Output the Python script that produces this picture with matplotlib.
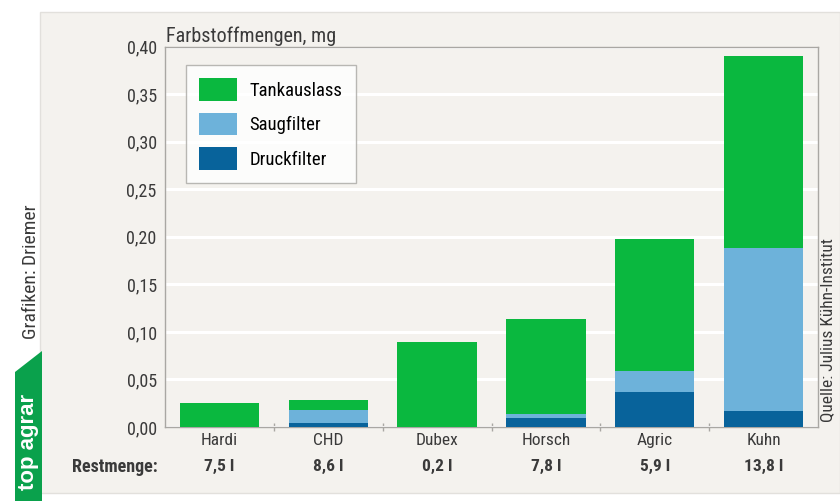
import matplotlib
matplotlib.use("Agg")
import matplotlib.pyplot as plt
from matplotlib.patches import Rectangle, Polygon, Patch
from matplotlib.ticker import FuncFormatter, FixedLocator

plt.rcParams["font.family"] = ["Roboto Condensed", "Liberation Sans", "DejaVu Sans"]

GREEN, LIGHT, DARK = "#0ab83f", "#6db2da", "#08639b"
PANEL, FRAME, TXT = "#f4f2ee", "#a9a7a3", "#3a3a3a"

categories = ["Hardi", "CHD", "Dubex", "Horsch", "Agric", "Kuhn"]
restmenge = ["7,5 l", "8,6 l", "0,2 l", "7,8 l", "5,9 l", "13,8 l"]
druckfilter = [0.0, 0.004, 0.0, 0.009, 0.037, 0.017]
saugfilter = [0.0, 0.014, 0.0, 0.005, 0.022, 0.171]
tankauslass = [0.025, 0.010, 0.089, 0.100, 0.139, 0.202]
yticks = [0.0, 0.05, 0.10, 0.15, 0.20, 0.25, 0.30, 0.35, 0.40]

fig = plt.figure(figsize=(8.4, 5.01), dpi=100)
fig.patch.set_facecolor("white")
W, H = 840, 501


def fx(px):
    return px / W


def fy(py):
    return 1 - py / H


# beige panel behind the chart
fig.patches.append(Rectangle((fx(40), fy(493)), fx(800), (493 - 12) / H,
                             transform=fig.transFigure, facecolor=PANEL,
                             edgecolor="#e2e0dc", lw=1, zorder=-10))

ax = fig.add_axes([fx(165), fy(427), fx(818) - fx(165), (427 - 46.7) / H])
ax.set_facecolor(PANEL)
x = list(range(len(categories)))
bottom2 = [a + b for a, b in zip(druckfilter, saugfilter)]
ax.bar(x, druckfilter, width=0.73, color=DARK, zorder=3)
ax.bar(x, saugfilter, width=0.73, bottom=druckfilter, color=LIGHT, zorder=3)
ax.bar(x, tankauslass, width=0.73, bottom=bottom2, color=GREEN, zorder=3)

ax.set_xlim(-0.5, len(categories) - 0.5)
ax.set_ylim(0, 0.40)
ax.set_yticks(yticks)
ax.yaxis.set_major_formatter(FuncFormatter(lambda v, p: f"{v:.2f}".replace(".", ",")))
ax.yaxis.grid(True, color="white", lw=2.2, zorder=1)
ax.set_axisbelow(True)
ax.tick_params(axis="y", length=0, pad=6, labelsize=13, labelcolor=TXT)

ax.xaxis.set_major_locator(FixedLocator(x))
ax.set_xticklabels(categories)
ax.xaxis.set_minor_locator(FixedLocator([i + 0.5 for i in x[:-1]]))
ax.tick_params(axis="x", which="major", length=0, pad=4, labelsize=12.5, labelcolor=TXT)
ax.tick_params(axis="x", which="minor", length=6, direction="inout", color=FRAME, width=1)
for s in ax.spines.values():
    s.set_color(FRAME)
    s.set_linewidth(1)

# Restmenge row
for i, r in enumerate(restmenge):
    ax.text(i, -0.105, r, ha="center", va="center", fontsize=12.5, fontweight="bold",
            color=TXT, transform=ax.get_xaxis_transform(), clip_on=False)
fig.text(fx(158), fy(467), "Restmenge:", ha="right", va="center", fontsize=13,
         fontweight="bold", color=TXT)

fig.text(fx(166), fy(36), "Farbstoffmengen, mg", ha="left", va="center",
         fontsize=14.5, color=TXT)

handles = [Patch(facecolor=GREEN, label="Tankauslass"),
           Patch(facecolor=LIGHT, label="Saugfilter"),
           Patch(facecolor=DARK, label="Druckfilter")]
leg = ax.legend(handles=handles, loc="upper left", bbox_to_anchor=(0.032, 0.952),
                fontsize=13.5, frameon=True, fancybox=False, handlelength=2.05,
                handleheight=1.5, labelspacing=0.62, borderpad=0.7,
                handletextpad=0.65, borderaxespad=0)
leg.get_frame().set_edgecolor(FRAME)
leg.get_frame().set_facecolor("white")
leg.get_frame().set_linewidth(1)

# side credits
fig.text(fx(828), fy(330), "Quelle: Julius Kühn-Institut", rotation=90, ha="center",
         va="center", fontsize=12.5, color=TXT)
fig.text(fx(31), fy(272), "Grafiken: Driemer", rotation=90, ha="center",
         va="center", fontsize=14, color=TXT)

# top agrar tab
fig.patches.append(Polygon([(fx(15), fy(501)), (fx(42), fy(501)), (fx(42), fy(351)),
                            (fx(15), fy(372))], closed=True, transform=fig.transFigure,
                           facecolor="#0aa14c", edgecolor="none", zorder=1))
fig.text(fx(28.5), fy(442), "top agrar", rotation=90, ha="center", va="center",
         fontsize=16, fontweight="bold", color="white",
         family=["Liberation Sans", "DejaVu Sans"])

fig.savefig("out.png", dpi=100)
